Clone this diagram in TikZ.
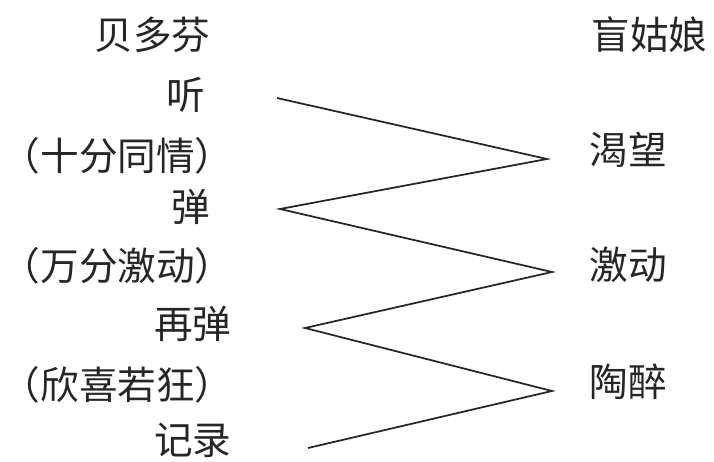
\documentclass[tikz,border=0pt]{standalone}
\usepackage{fontspec}
\setmainfont{Noto Sans CJK SC}
\begin{document}
\begin{tikzpicture}[x=0.02cm,y=-0.02cm,
    lword/.style={anchor=east,inner sep=0pt,text=black!85,font=\fontsize{22}{26}\selectfont},
    rword/.style={anchor=west,inner sep=0pt,text=black!85,font=\fontsize{22}{26}\selectfont},
    zigzag/.style={line width=1pt,black!85,line join=miter}]
    \useasboundingbox (0,0) rectangle (714,462);
    % left column: Beethoven
    \node[lword] (bdf) at (211,35) {贝多芬};
    \node[lword] (ting) at (206,95) {听};
    \node[lword] (tongqing) at (234,156) {（十分同情）};
    \node[lword] (tan) at (211,207) {弹};
    \node[lword] (jidong1) at (234,266) {（万分激动）};
    \node[lword] (zaitan) at (232,324) {再弹};
    \node[lword] (kuang) at (234,385) {（欣喜若狂）};
    \node[lword] (jilu) at (232,440) {记录};
    % right column: the blind girl
    \node[rword] (mgn) at (591,35) {盲姑娘};
    \node[rword] (kewang) at (589,150) {渴望};
    \node[rword] (jidong2) at (589,265) {激动};
    \node[rword] (taozui) at (589,382) {陶醉};
    % zigzag
    \coordinate (z0) at (277,98);
    \coordinate (z1) at (547,159);
    \coordinate (z2) at (280,209);
    \coordinate (z3) at (552,272);
    \coordinate (z4) at (305,328);
    \coordinate (z5) at (552,391);
    \coordinate (z6) at (308,448);
    \draw[zigzag] (z0) -- (z1) -- (z2) -- (z3) -- (z4) -- (z5) -- (z6);
\end{tikzpicture}
\end{document}
